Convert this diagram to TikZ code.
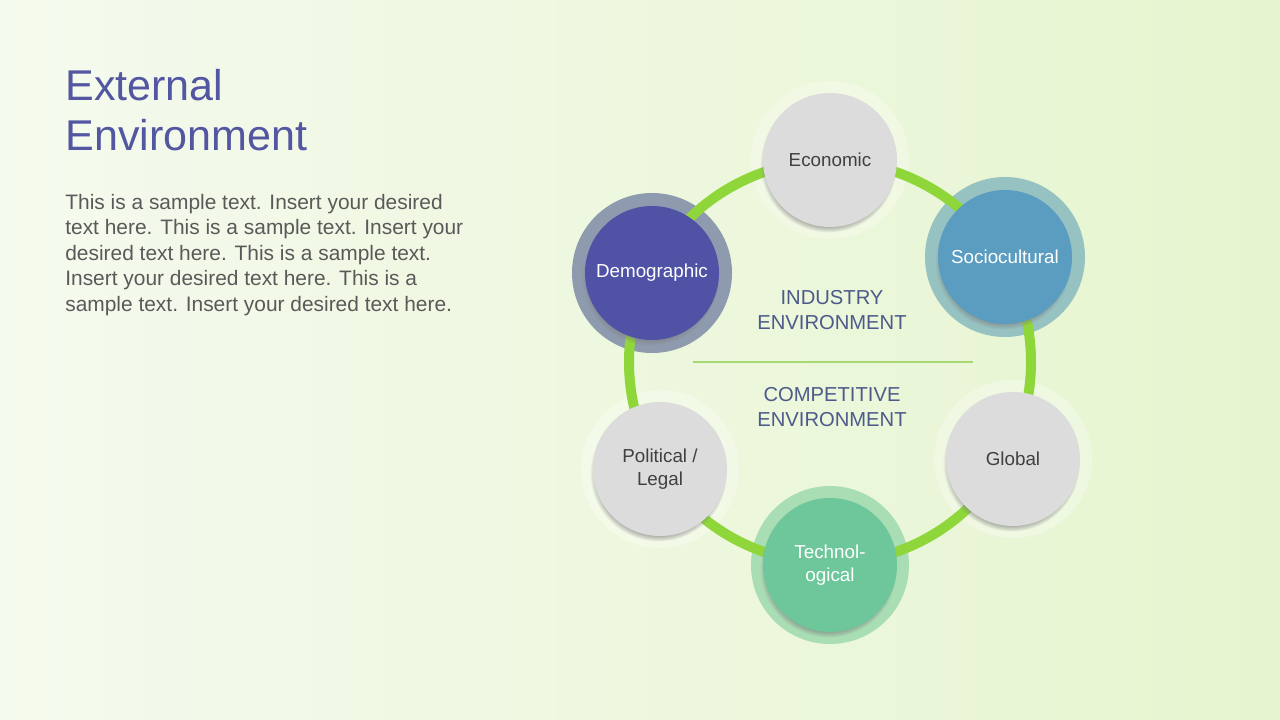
\documentclass[tikz,border=0pt]{standalone}
\usepackage{fontspec}
\setmainfont{Liberation Sans}
\usetikzlibrary{positioning,shadows,backgrounds}
\definecolor{exBgLeft}{HTML}{F5FAEE}
\definecolor{exBgMid}{HTML}{E4F3CB}
\definecolor{exBgRight}{HTML}{E6F5CF}
\definecolor{exTitle}{HTML}{5356A0}
\definecolor{exText}{HTML}{595959}
\definecolor{exSlate}{HTML}{4D5A8A}
\definecolor{exLime}{HTML}{8ED63A}
\definecolor{exRule}{HTML}{A8D872}
\definecolor{exGray}{HTML}{DCDCDC}
\definecolor{exDark}{HTML}{404040}
\definecolor{exPurple}{HTML}{5052A6}
\definecolor{exPurpleHalo}{HTML}{8E9AAE}
\definecolor{exBlue}{HTML}{5B9DC0}
\definecolor{exBlueHalo}{HTML}{97C2C2}
\definecolor{exGreen}{HTML}{6DC79A}
\definecolor{exGreenHalo}{HTML}{A9DDB4}

\begin{document}
\begin{tikzpicture}[
      x=0.2mm,y=-0.2mm,
      font=\fontsize{10.7}{13}\selectfont,
      dot/.style={circle,minimum size=26.8mm,inner sep=0pt,align=center,
                  circular drop shadow={shadow xshift=-0.3mm,shadow yshift=-0.8mm,shadow scale=1.02}},
      plain/.style={dot,fill=exGray,text=exDark},
      hue/.style={dot,text=white},
      ring/.style={draw=exLime,line width=2mm},
      mid/.style={text=exSlate,font=\fontsize{11.5}{14.5}\selectfont,align=center},
      lbl/.style={anchor=north west,inner sep=0pt,align=left}
    ]
    \useasboundingbox (0,0) rectangle (1280,720);

    \node[lbl,text=exTitle,font=\fontsize{24.5}{28.5}\selectfont] (title) at (65,69)
      {External\\Environment};
    \node[lbl,text=exText,font=\fontsize{11.9}{14.5}\selectfont] (body) at (65,194)
      {This is a sample text. Insert your desired\\
       text here. This is a sample text. Insert your\\
       desired text here. This is a sample text.\\
       Insert your desired text here. This is a\\
       sample text. Insert your desired text here.};

    \coordinate (hub) at (830,362);
    \node[plain]           (econ)   at ( 830,160) {Economic};
    \node[hue,fill=exBlue]   (socio)  at (1005,257) {Sociocultural};
    \node[plain]           (global) at (1013,459) {Global};
    \node[hue,fill=exGreen]  (tech)   at ( 830,565) {Technol-\\ogical};
    \node[plain]           (legal)  at ( 660,469) {Political /\\Legal};
    \node[hue,fill=exPurple] (demo)   at ( 652,273) {Demographic};

    \node[mid] (industry) at (832,310) {INDUSTRY\\ENVIRONMENT};
    \node[mid] (compet)   at (832,407) {COMPETITIVE\\ENVIRONMENT};
    \coordinate (ruleL) at (693,362);
    \coordinate (ruleR) at (973,362);
    \draw[exRule,line width=0.25mm] (ruleL) -- (ruleR);

    % halos and the ring sit under the circles
    \begin{scope}[on background layer]
      \shade[left color=exBgLeft,middle color=exBgMid,right color=exBgRight]
        (0,0) rectangle (1280,720);
      \foreach \n in {econ,global,legal}
        \fill[white,opacity=0.3] (\n) circle (15.8mm);
      \fill[exBlueHalo]   (socio) circle (16mm);
      \fill[exGreenHalo]  (tech)  circle (15.8mm);
      \fill[exPurpleHalo] (demo)  circle (16mm);
      \draw[ring] (hub) circle (40.2mm);
    \end{scope}
  \end{tikzpicture}
\end{document}
